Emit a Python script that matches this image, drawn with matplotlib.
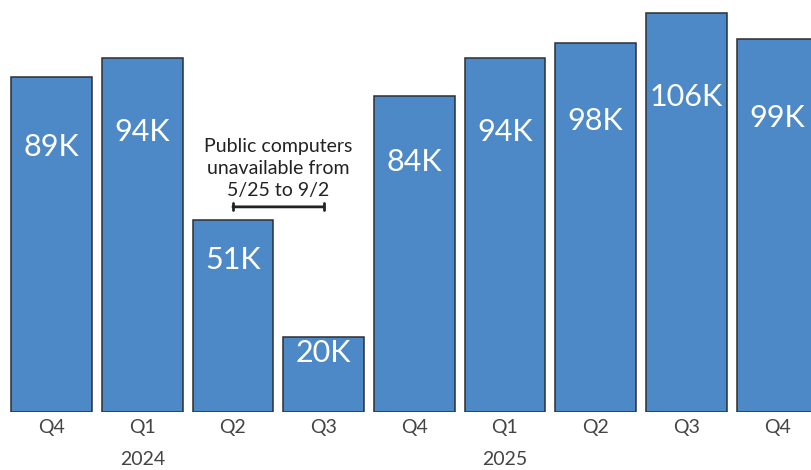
import matplotlib.pyplot as plt
from matplotlib.transforms import blended_transform_factory

# quarterly visits, in thousands
quarters = ["Q4", "Q1", "Q2", "Q3", "Q4", "Q1", "Q2", "Q3", "Q4"]
visits = [89, 94, 51, 20, 84, 94, 98, 106, 99]
years = ["2024", "2025"]
year_pos = [1, 5]   # year label sits under the first quarter of that year

BAR = "#4d89c7"
EDGE = "#2b2f36"
GREY = "#444444"
FONT = ["Lato", "DejaVu Sans"]

fig = plt.figure(figsize=(8.11, 4.70), dpi=100)
ax = fig.add_axes([0, 58 / 470, 1, 412 / 470])

x = list(range(len(visits)))
ax.bar(x, visits, width=0.89, color=BAR, edgecolor=EDGE, linewidth=1.1)

for xi, v in zip(x, visits):
    ax.text(xi, v * 0.79, f"{v}K", ha="center", va="center",
            color="white", fontsize=22, family=FONT)

ax.set_xlim(-0.568, 8.374)
ax.set_ylim(0, 109.46)

ax.set_xticks(x)
ax.set_xticklabels(quarters, fontsize=14, color=GREY, family=FONT)
ax.tick_params(axis="x", length=0, pad=5)
ax.set_yticks([])
for s in ax.spines.values():
    s.set_visible(False)

trans = blended_transform_factory(ax.transData, ax.transAxes)
for yr, pos in zip(years, year_pos):
    ax.text(pos, -0.116, yr, transform=trans, ha="center", va="center",
            fontsize=14, color=GREY, family=FONT)

# closure window marker between Q2 and Q3 2024
ax.annotate("", xy=(2, 54.5), xytext=(3, 54.5),
            arrowprops=dict(arrowstyle="|-|,widthA=0.25,widthB=0.25",
                            color="#222222", lw=2, shrinkA=0, shrinkB=0))
ax.text(2.5, 64.6, "Public computers\nunavailable from\n5/25 to 9/2",
        ha="center", va="center", fontsize=14, color="#222222",
        family=FONT, linespacing=1.35)

fig.savefig("out.png", dpi=100)
